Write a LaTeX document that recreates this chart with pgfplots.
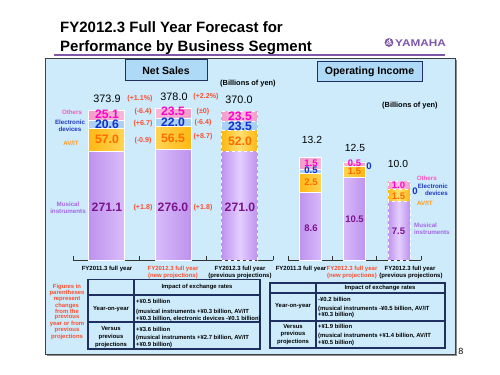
\documentclass[border=0pt]{standalone}
\usepackage{fontspec}
\setmainfont{Liberation Sans}
\usepackage{pgfplots}
\pgfplotsset{compat=1.18}
\newcommand\fs[2]{\fontsize{#1bp}{#2bp}\selectfont}
\definecolor{panel}{HTML}{CDEBFB}
\definecolor{boxc}{HTML}{AEDAF7}
\definecolor{navy}{HTML}{1F2F5F}
\definecolor{ypur}{HTML}{7E57A8}
\definecolor{mia}{HTML}{BE92EE}
\definecolor{mib}{HTML}{E4CEFF}
\definecolor{ava}{HTML}{FFB812}
\definecolor{avb}{HTML}{FFE070}
\definecolor{edc}{HTML}{AAD0F6}
\definecolor{ota}{HTML}{F39CC8}
\definecolor{otb}{HTML}{FCC4DE}
\definecolor{tmi}{HTML}{7A138C}
\definecolor{tav}{HTML}{FF6A00}
\definecolor{ted}{HTML}{1030D0}
\definecolor{tot}{HTML}{FF00CC}
\definecolor{tred}{HTML}{FF4D2E}
\definecolor{lmi}{HTML}{A468E6}
\definecolor{lot}{HTML}{FF55BB}
\definecolor{led}{HTML}{2038C0}
\definecolor{lav}{HTML}{FF9A22}
\pgfplotsset{
  mi/.style={draw=white, line width=0.4pt, left color=mia, right color=mia, middle color=mib},
  av/.style={draw=white, line width=0.4pt, left color=ava, right color=ava, middle color=avb},
  ed/.style={draw=white, line width=0.4pt, fill=edc},
  ot/.style={draw=white, line width=0.4pt, left color=ota, right color=ota, middle color=otb},
  nsaxis/.style={at={(73bp,115bp)}, anchor=south west, scale only axis, width=200bp, height=160.4bp,
     xmin=-0.5, xmax=2.5, ymin=0, ymax=400, ybar stacked, bar width=36bp, clip=false},
  oiaxis/.style={at={(288bp,115bp)}, anchor=south west, scale only axis, width=133bp, height=157bp,
     xmin=-0.5, xmax=2.5, ymin=0, ymax=20, ybar stacked, bar width=22bp, clip=false},
  catline/.style={hide y axis, axis x line*=bottom, xtick={-0.5,0.5,1.5,2.5}, xticklabels={},
     tick align=inside, major tick length=4bp, axis line style={black!80, line width=0.8pt},
     tick style={black!80, line width=0.8pt}},
}
\begin{document}
\begin{tikzpicture}
\path[fill=white] (0,0) rectangle (500bp,375bp);
\begin{scope}[x=1bp,y=-1bp,shift={(0bp,375bp)}]
 \fill[black!45] (47,60.5) rectangle (457,356);
 \fill[panel] (45,58.5) rectangle (455,354);
 \draw[black!75, line width=0.8bp] (45,58.5) rectangle (455,354);
 \node[anchor=base west, inner sep=0, font=\bfseries\fs{15}{15}] at (60,33) {FY2012.3 Full Year Forecast for};
 \node[anchor=base west, inner sep=0, font=\bfseries\fs{15}{15}] at (60,52) {Performance by Business Segment};
 \draw[ypur, line width=2bp] (54,54.8) -- (445,54.8);
 \fill[ypur] (389,42.5) circle (4.4);
 \draw[white, line width=0.5bp] (389,42.5) circle (2);
 \foreach \a in {90,210,330}{\draw[white, line width=0.6bp] (389,42.5) -- ++(\a:-3.6);}
 \node[anchor=base west, inner sep=0, text=ypur, font=\bfseries\fs{9.8}{9.8}, xscale=1.2] at (395,46.5) {YAMAHA};
 \draw[navy, fill=boxc, line width=1bp] (125,60) rectangle (207,81);
 \node[font=\bfseries\fs{10.5}{10.5}, inner sep=0] at (166,70.5) {Net Sales};
 \draw[navy, fill=boxc, line width=1bp] (317,62) rectangle (422,82);
 \node[font=\bfseries\fs{10.5}{10.5}, inner sep=0] at (369.5,72) {Operating Income};
 \node[anchor=west, inner sep=0, font=\bfseries\fs{7.4}{7.4}] at (220,84) {(Billions of yen)};
 \node[anchor=west, inner sep=0, font=\bfseries\fs{7.4}{7.4}] at (382,106) {(Billions of yen)};
\end{scope}

% ---------- Net sales ----------
\begin{axis}[nsaxis, catline]
\addplot[mi] coordinates {(0,271.1) (1,276.0)};
\addplot[av] coordinates {(0,57.0) (1,56.5)};
\addplot[ed] coordinates {(0,20.6) (1,22.0)};
\addplot[ot] coordinates {(0,25.1) (1,23.5)};
\end{axis}
\begin{axis}[nsaxis, hide axis]
\addplot[mi, dashed] coordinates {(2,271.0)};
\addplot[av, dashed] coordinates {(2,52.0)};
\addplot[ed, dashed] coordinates {(2,23.5)};
\addplot[ot, dashed] coordinates {(2,23.5)};
\end{axis}
% ---------- Operating income ----------
\begin{axis}[oiaxis, catline]
\addplot[mi] coordinates {(0,8.6) (1,10.5)};
\addplot[av] coordinates {(0,2.5) (1,1.5)};
\addplot[ed] coordinates {(0,0.5) (1,0)};
\addplot[ot] coordinates {(0,1.5) (1,0.5)};
\end{axis}
\begin{axis}[oiaxis, hide axis]
\addplot[mi, dashed] coordinates {(2,7.5)};
\addplot[av, dashed] coordinates {(2,1.5)};
\addplot[ed, dashed] coordinates {(2,0)};
\addplot[ot, dashed] coordinates {(2,1.0)};
\end{axis}

\begin{scope}[x=1bp,y=-1bp,shift={(0bp,375bp)}, every node/.style={inner sep=0}]
 % totals
 \node[font=\fs{10.8}{10.8}] at (107,99) {373.9};
 \node[font=\fs{10.8}{10.8}] at (174,97) {378.0};
 \node[font=\fs{10.8}{10.8}] at (239,100) {370.0};
 \node[font=\fs{10.3}{10.3}] at (312,140) {13.2};
 \node[font=\fs{10.3}{10.3}] at (355,148) {12.5};
 \node[font=\fs{10.3}{10.3}] at (398,164) {10.0};
 % net sales segment values
 \begin{scope}[every node/.append style={font=\bfseries\fs{12.2}{12.2}}]
 \node[text=tot] at (107,114.5) {25.1};
 \node[text=ted] at (107,124) {20.6};
 \node[text=tav] at (107,139.5) {57.0};
 \node[text=tmi] at (107,207) {271.1};
 \node[text=tot] at (173,111.5) {23.5};
 \node[text=ted] at (173,122) {22.0};
 \node[text=tav] at (173,138) {56.5};
 \node[text=tmi] at (173,207) {276.0};
 \node[text=tot] at (240,116) {23.5};
 \node[text=ted] at (240,126) {23.5};
 \node[text=tav] at (240,141) {52.0};
 \node[text=tmi] at (240,207) {271.0};
 \end{scope}
 % op income segment values
 \begin{scope}[every node/.append style={font=\bfseries\fs{9.5}{9.5}}]
 \node[text=tot] at (311,163) {1.5};
 \node[text=ted] at (311,170) {0.5};
 \node[text=tav] at (311,182) {2.5};
 \node[text=tmi] at (311,228) {8.6};
 \node[text=tot] at (354.5,163) {0.5};
 \node[text=tav] at (354.5,171) {1.5};
 \node[text=tmi] at (354.5,219) {10.5};
 \node[text=ted] at (369,166) {0};
 \node[text=tot] at (398.5,185) {1.0};
 \node[text=tav] at (398.5,196) {1.5};
 \node[text=tmi] at (398.5,231) {7.5};
 \node[text=ted] at (415,191) {0};
 \end{scope}
 % changes
 \begin{scope}[every node/.append style={font=\bfseries\fs{7.1}{7.1}, text=tred}]
 \node at (140,99) {(+1.1\%)};
 \node at (206,97) {(+2.2\%)};
 \node at (143,112) {(-6.4)};
 \node at (143,124) {(+6.7)};
 \node at (143,141) {(-0.9)};
 \node at (143,208) {(+1.8)};
 \node at (203,112) {(±0)};
 \node at (203,123) {(-6.4)};
 \node at (203,137) {(+8.7)};
 \node at (203,208) {(+1.8)};
 \end{scope}
 % segment names
 \begin{scope}[every node/.append style={font=\bfseries\fs{6.2}{7.4}, align=center}]
 \node[text=lot] at (72,112) {Others};
 \node[text=led] at (70,125.5) {Electronic\\devices};
 \node[text=lav] at (71,143) {AV/IT};
 \node[text=lmi] at (68,208) {Musical\\instruments};
 \node[text=lot, anchor=east] at (437,178) {Others};
 \node[text=led, anchor=east, align=right] at (448,190) {Electronic\\devices};
 \node[text=lav, anchor=west] at (417,203) {AV/IT};
 \node[text=lmi, anchor=west, align=left] at (414,229) {Musical\\instruments};
 \end{scope}
 % category labels
 \begin{scope}[every node/.append style={font=\bfseries\fs{6}{6}}]
 \node at (107,268.5) {FY2011.3 full year};
 \node[text=tred] at (173,268.5) {FY2012.3 full year};
 \node[text=tred] at (173,275.5) {(new projections)};
 \node at (240,268.5) {FY2012.3 full year};
 \node at (240,275.5) {(previous projections)};
 \node at (301,268.5) {FY2011.3 full year};
 \node[text=tred] at (352,268.5) {FY2012.3 full year};
 \node[text=tred] at (352,275.5) {(new projections)};
 \node at (410,268.5) {FY2012.3 full year};
 \node at (411,275.5) {(previous projections)};
 \end{scope}
 % note
 \node[text=tred, font=\bfseries\fs{5.9}{4.9}, align=center] at (67,311.5)
   {Figures in\\parentheses\\represent\\changes\\from the\\previous\\year or from\\previous\\projections};
 % left table
 \draw[navy, line width=1.1bp] (88,279.5) rectangle (260,349);
 \draw[navy, line width=1.1bp] (134,279.5) -- (134,349) (88,295) -- (260,295) (88,322) -- (260,322);
 \begin{scope}[every node/.append style={font=\bfseries\fs{5.9}{7.8}}]
 \node at (197,287) {Impact of exchange rates};
 \node at (111,309) {Year-on-year};
 \node[align=center] at (111,337) {Versus\\previous\\projections};
 \node[anchor=west] at (136,301) {+¥0.5 billion};
 \node[anchor=west] at (136,312) {(musical instruments +¥0.3 billion, AV/IT};
 \node[anchor=west] at (136,319) {+¥0.3 billion, electronic devices -¥0.1 billion)};
 \node[anchor=west] at (136,329) {+¥3.6 billion};
 \node[anchor=west] at (136,338) {(musical instruments +¥2.7 billion, AV/IT};
 \node[anchor=west] at (136,345) {+¥0.9 billion)};
 \end{scope}
 % right table
 \draw[navy, line width=1.1bp] (270,283) rectangle (445,348);
 \draw[navy, line width=1.1bp] (316,283) -- (316,348) (270,293) -- (445,293) (270,321) -- (445,321);
 \begin{scope}[every node/.append style={font=\bfseries\fs{5.9}{7.6}}]
 \node at (380,288) {Impact of exchange rates};
 \node at (293,306) {Year-on-year};
 \node[align=center] at (293,334.5) {Versus\\previous\\projections};
 \node[anchor=west] at (318,299) {-¥0.2 billion};
 \node[anchor=west] at (318,309) {(musical instruments -¥0.5 billion, AV/IT};
 \node[anchor=west] at (318,315) {+¥0.3 billion)};
 \node[anchor=west] at (318,326) {+¥1.9 billion};
 \node[anchor=west] at (318,336) {(musical instruments +¥1.4 billion, AV/IT};
 \node[anchor=west] at (318,343) {+¥0.5 billion)};
 \end{scope}
 \node[font=\fs{9}{9}] at (461,351) {8};
\end{scope}
\end{tikzpicture}
\end{document}
